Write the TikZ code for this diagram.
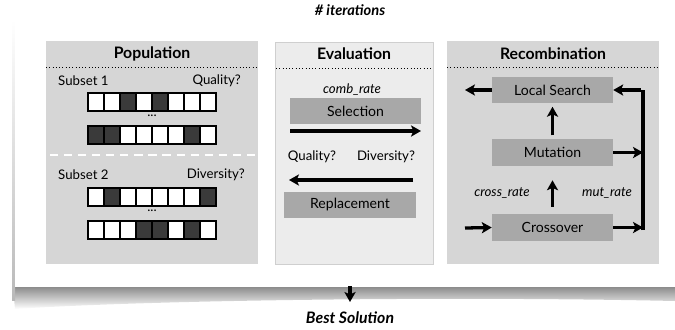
\documentclass[tikz,border=0pt]{standalone}
\usepackage{fontspec}
\setmainfont{Lato}
\usetikzlibrary{arrows.meta}
\definecolor{panelfill}{HTML}{D6D6D6}
\definecolor{evalfill}{HTML}{ECECEC}
\definecolor{evalline}{HTML}{CFCFCF}
\definecolor{boxfill}{HTML}{A8A8A8}
\definecolor{cellfill}{HTML}{3A3A3A}
\def\u{0.03cm}
\begin{document}
\begin{tikzpicture}[x=0.03cm,y=-0.03cm,
  panel/.style={fill=panelfill, draw=none, anchor=north west, inner sep=0pt},
  evalpanel/.style={fill=evalfill, draw=evalline, line width=1pt, anchor=north west, inner sep=0pt},
  opbox/.style={fill=boxfill, draw=none, inner sep=0pt, font=\fontsize{12}{14}\selectfont},
  title/.style={font=\fontsize{13.5}{15}\selectfont\bfseries},
  lbl/.style={font=\fontsize{11.3}{13}\selectfont, inner sep=0pt},
  ilbl/.style={font=\fontsize{11.3}{13}\selectfont\itshape, inner sep=0pt},
  hdr/.style={dotted, line width=0.8pt},
  arr/.style={line width=2.8pt, -{Stealth[length=8.5pt,width=9.5pt,inset=2pt]}},
  bigline/.style={line width=3pt},
]
\useasboundingbox (0,0) rectangle (675,329);
% page shadow
\shade[top color=gray!90, bottom color=white] (13,287) -- (675,287) -- (675,301) .. controls (450,296) and (150,300) .. (15,309) -- cycle;
\shade[top color=white, bottom color=gray!55] (12,20) rectangle (15,300);
\fill[white] (15,20) rectangle (675,287);

\node[font=\fontsize{12.5}{14}\selectfont\bfseries\itshape] (iter) at (350,10) {\# iterations};

% panels
\node[panel, minimum width=212*\u, minimum height=223*\u] (pop) at (46,41) {};
\node[evalpanel, minimum width=158*\u, minimum height=222*\u] (eval) at (275,42) {};
\node[panel, minimum width=212*\u, minimum height=223*\u] (rec) at (447,41) {};

\node[title] (popt) at (152,54) {Population};
\node[title] (evalt) at (354,54) {Evaluation};
\node[title] (rect) at (553,54) {Recombination};
\draw[hdr] (46,67) -- (258,67);
\draw[hdr] (276,68) -- (432,68);
\draw[hdr] (447,67) -- (659,67);

% population
\node[lbl, anchor=west] (s1) at (58,81) {Subset 1};
\node[lbl, anchor=east] (q1) at (241,81) {Quality?};
\node[lbl, anchor=west] (s2) at (58,175) {Subset 2};
\node[lbl, anchor=east] (d2) at (245,175) {Diversity?};
\draw[white, line width=2pt, dash pattern=on 7pt off 5pt] (50,155) -- (256,155);
\node[lbl] (dots1) at (152,116) {...};
\node[lbl] (dots2) at (152,211) {...};
\foreach \row/\y in {{0,0,1,0,1,0,0,0}/93,{1,1,0,0,0,0,1,0}/126,{0,1,0,0,0,0,0,1}/188,{0,0,0,1,1,0,1,0}/221}{
  \foreach \c [count=\i from 0] in \row {
    \ifnum\c=1 \def\cf{cellfill}\else\def\cf{white}\fi
    \draw[fill=\cf, line width=2pt] (88+\i*16,\y) rectangle ++(16,18);
  }
}

% evaluation
\node[ilbl] (comb) at (352,90) {comb\_rate};
\node[opbox, minimum width=131*\u, minimum height=26*\u] (sel) at (355.5,111) {Selection};
\coordinate (sa) at (290,131);
\coordinate (sb) at (421,131);
\draw[arr] (sa) -- (sb);
\node[lbl] (qe) at (312,157) {Quality?};
\node[lbl] (de) at (386,157) {Diversity?};
\coordinate (ra) at (413,180);
\coordinate (rb) at (289,180);
\draw[arr] (ra) -- (rb);
\node[opbox, minimum width=132*\u, minimum height=26*\u] (rep) at (350,205) {Replacement};

% recombination
\node[opbox, minimum width=121*\u, minimum height=26*\u] (ls) at (552.5,90) {Local Search};
\node[opbox, minimum width=121*\u, minimum height=27*\u] (mu) at (552.5,152.5) {Mutation};
\node[opbox, minimum width=121*\u, minimum height=27*\u] (co) at (552.5,227.5) {Crossover};
\coordinate (lsout) at (465,90);
\draw[arr] (ls.west) -- (lsout);
\coordinate (coin) at (465,228);
\draw[arr] (coin) -- (co.west);
\draw[arr, shorten <=3pt, shorten >=3pt] (mu.north) -- (ls.south);
\draw[arr, shorten <=6pt, shorten >=12pt] (co.north) -- (mu.south);
\node[ilbl] (cr) at (502,193) {cross\_rate};
\node[ilbl] (mr) at (607,193) {mut\_rate};
\coordinate (vb) at (643,230);
\coordinate (vt) at (643,90);
\draw[bigline] (vb) -- (vt);
\draw[arr] ([xshift=-1.5pt]vt) -- (ls.east);
\draw[arr] (mu.east) -- (mu.east -| vb);
\draw[arr] (co.east) -- (co.east -| vb);

% output
\coordinate (outa) at (350,286);
\coordinate (outb) at (350,302);
\draw[arr] (outa) -- (outb);
\node[font=\fontsize{13.5}{15}\selectfont\bfseries\itshape] (best) at (350,318) {Best Solution};
\end{tikzpicture}
\end{document}
